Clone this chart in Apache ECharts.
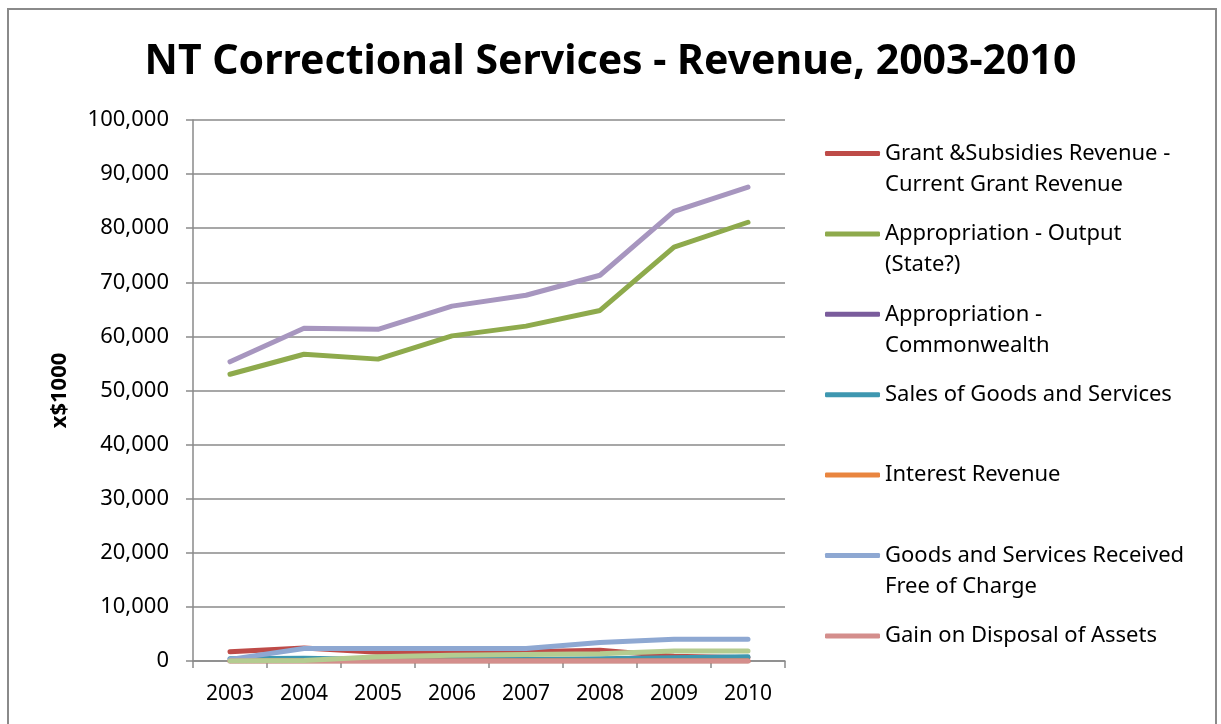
<!DOCTYPE html>
<html>
<head>
<meta charset="utf-8">
<title>NT Correctional Services - Revenue</title>
<script src="https://cdn.jsdelivr.net/npm/echarts@6/dist/echarts.min.js"></script>
<style>
  html, body { margin: 0; padding: 0; background: #fff; }
  #frame { position: absolute; left: 7px; top: 8px; width: 1210px; height: 730px; border: 2px solid #8a8a8a; box-sizing: border-box; }
  #chart { position: absolute; left: 0; top: 0; width: 1221px; height: 724px; }
</style>
</head>
<body>
<div id="frame"></div>
<div id="chart"></div>
<script>
// years on the x axis
var years = ['2003', '2004', '2005', '2006', '2007', '2008', '2009', '2010']

// revenue lines, x$1000
var grantRevenue = [1700, 2400, 1600, 1600, 1700, 2000, 900, 600]
var appropOutput = [53000, 56700, 55800, 60100, 61900, 64800, 76500, 81100]
var appropCommonwealth = [0, 0, 0, 0, 0, 0, 0, 0]
var salesGoods = [400, 500, 300, 300, 300, 400, 600, 800]
var interestRevenue = [0, 0, 0, 0, 0, 0, 0, 0]
var freeOfCharge = [300, 2300, 2300, 2300, 2300, 3400, 4000, 4000]
var gainOnDisposal = [0, 0, 0, 0, 0, 0, 0, 0]
var otherRevenue = [0, 100, 800, 1050, 1200, 1350, 1850, 1850]
var totalRevenue = [55300, 61500, 61300, 65600, 67600, 71300, 83100, 87600]

var yTicks = { min: 0, max: 100000, interval: 10000 }

// legend wording as it wraps in the picture
var legendText = {
  'Grant &Subsidies Revenue - Current Grant Revenue': ['Grant &Subsidies Revenue -', 'Current Grant Revenue'],
  'Appropriation - Output (State?)': ['Appropriation - Output', '(State?)'],
  'Appropriation - Commonwealth': ['Appropriation -', 'Commonwealth'],
  'Sales of Goods and Services': ['Sales of Goods and Services', ''],
  'Interest Revenue': ['Interest Revenue', ''],
  'Goods and Services Received Free of Charge': ['Goods and Services Received', 'Free of Charge'],
  'Gain on Disposal of Assets': ['Gain on Disposal of Assets', '']
}

var font = '"Noto Sans", "DejaVu Sans", sans-serif'
var gridGray = '#8a8a8a'

function line(name, data, color) {
  return {
    name: name,
    type: 'line',
    data: data,
    symbol: 'none',
    smooth: false,
    lineStyle: { width: 5, color: color, cap: 'round', join: 'round' },
    itemStyle: { color: color },
    emphasis: { disabled: true }
  }
}

var chart = echarts.init(document.getElementById('chart'), null, { renderer: 'canvas' })

var option = {
  animation: false,
  backgroundColor: 'transparent',
  title: {
    text: 'NT Correctional Services - Revenue, 2003-2010',
    left: 'center',
    top: 37,
    textStyle: { fontFamily: font, fontSize: 41, fontWeight: 'bold', color: '#000' }
  },
  grid: { left: 193, right: 436, top: 120, bottom: 63, containLabel: false },
  legend: {
    orient: 'vertical',
    left: 820,
    top: 102,
    itemGap: -12.6,
    itemWidth: 55,
    itemHeight: 5,
    icon: 'roundRect',
    selectedMode: false,
    data: Object.keys(legendText),
    // empty first line keeps the icon level with the first text line
    formatter: function (name) { return '\n' + legendText[name].join('\n') },
    textStyle: {
      fontFamily: font,
      fontSize: 22,
      color: '#000',
      lineHeight: 31
    }
  },
  xAxis: {
    type: 'category',
    data: years,
    boundaryGap: true,
    axisLine: { lineStyle: { color: gridGray, width: 1.5 } },
    axisTick: { show: true, length: 7, lineStyle: { color: gridGray, width: 1.5 } },
    axisLabel: { fontFamily: font, fontSize: 21, color: '#000', margin: 23 },
    splitLine: { show: false }
  },
  yAxis: {
    type: 'value',
    min: yTicks.min,
    max: yTicks.max,
    interval: yTicks.interval,
    name: 'x$1000',
    nameLocation: 'middle',
    nameRotate: 90,
    nameGap: 122,
    nameTextStyle: { fontFamily: font, fontSize: 22, fontWeight: 'bold', color: '#000' },
    axisLine: { show: true, lineStyle: { color: gridGray, width: 1.5 } },
    axisTick: { show: true, length: 7, lineStyle: { color: gridGray, width: 1.5 } },
    axisLabel: {
      fontFamily: font,
      fontSize: 22,
      color: '#000',
      margin: 24,
      formatter: function (v) { return v.toLocaleString('en-US') }
    },
    splitLine: { show: true, lineStyle: { color: gridGray, width: 1.5 } }
  },
  series: [
    line('Grant &Subsidies Revenue - Current Grant Revenue', grantRevenue, '#be4b48'),
    line('Appropriation - Output (State?)', appropOutput, '#8eaa4c'),
    line('Appropriation - Commonwealth', appropCommonwealth, '#7a5c9c'),
    line('Sales of Goods and Services', salesGoods, '#3e97b0'),
    line('Interest Revenue', interestRevenue, '#e9853f'),
    line('Goods and Services Received Free of Charge', freeOfCharge, '#8ea8d2'),
    line('Gain on Disposal of Assets', gainOnDisposal, '#d48e8c'),
    line('Other Revenue', otherRevenue, '#b4cc90'),
    line('Total Revenue', totalRevenue, '#a796bf')
  ]
}

chart.setOption(option)
</script>
</body>
</html>
